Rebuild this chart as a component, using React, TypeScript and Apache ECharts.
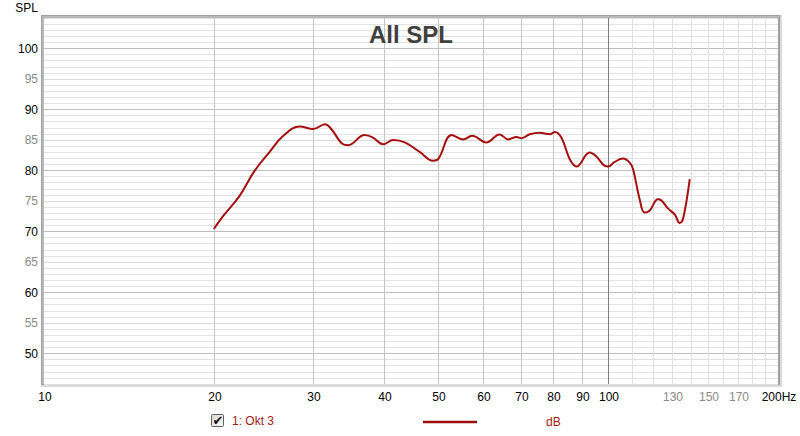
import React, { useEffect, useRef } from "react";
import * as echarts from "echarts";

// Frequency response (Hz) and level (dB SPL)
const freqs = [20.0, 20.8, 22.2, 23.6, 25.1, 26.5, 28.4, 30.0, 31.5, 32.3, 33.9, 34.6, 37.0, 38.3, 39.9, 41.6, 43.6, 46.4, 48.9, 50.0, 52.8, 55.3, 57.4, 60.8, 64.2, 66.5, 68.8, 70.2, 72.6, 75.6, 78.8, 80.4, 82.6, 85.5, 87.9, 92.7, 95.3, 98.6, 100, 102.7, 106.2, 109.2, 110.7, 113.7, 116, 118.4, 122.5, 124.3, 127.6, 131.2, 133.9, 135.7, 139.5];
const spl = [70.4, 72.6, 75.8, 79.9, 83.0, 85.6, 87.2, 86.8, 87.6, 86.8, 84.3, 84.15, 85.8, 85.4, 84.3, 85.0, 84.6, 83.0, 81.6, 81.9, 85.8, 85.1, 85.7, 84.6, 85.9, 85.1, 85.5, 85.3, 85.95, 86.2, 85.95, 86.3, 85.4, 81.85, 80.65, 82.95, 82.3, 80.75, 80.65, 81.4, 81.97, 81.3, 80.2, 75.3, 73.1, 73.4, 75.3, 75.1, 73.8, 72.8, 71.4, 72.0, 78.6];

// Vertical grid lines / x tick labels
const gridFreqs = [10, 20, 30, 40, 50, 60, 70, 80, 90, 100, 110, 120, 130, 140, 150, 160, 170, 180, 190, 200];
const gridLabels = ["10", "20", "30", "40", "50", "60", "70", "80", "90", "100", "", "", "130", "", "150", "", "170", "", "", "200Hz"];
const labelGrey = ["130", "150", "170"];

const Y_MIN = 45;
const Y_MAX = 105;
const X_MIN = 10;
const X_MAX = 200;

const FONT = "Liberation Sans, Arial, sans-serif";
const RED = "#a50f0f";

export default function App() {
  const ref = useRef<HTMLDivElement>(null);
  useEffect(() => {
    if (!ref.current) return;
    const chart = echarts.init(ref.current, null, { renderer: "svg" });
    const lineData = freqs.map((f, i) => [Math.log10(f), spl[i]]);
    const gridData = gridFreqs.map((f, i) => [Math.log10(f), i]);

    chart.setOption({
      animation: false,
      backgroundColor: "#ffffff",
      grid: { left: 44, top: 18, right: 22, bottom: 52, show: false },
      xAxis: {
        type: "value",
        min: Math.log10(X_MIN),
        max: Math.log10(X_MAX),
        axisLabel: { show: false },
        axisLine: { show: false },
        axisTick: { show: false },
        splitLine: { show: false },
      },
      yAxis: {
        type: "value",
        min: Y_MIN,
        max: Y_MAX,
        interval: 5,
        axisLine: { show: false },
        axisTick: { show: false },
        axisLabel: {
          margin: 6,
          fontFamily: FONT,
          fontSize: 12,
          formatter: (v: number) => {
            if (v <= Y_MIN || v >= Y_MAX) return "";
            return v % 10 === 0 ? `{b|${v}}` : `{g|${v}}`;
          },
          rich: {
            b: { color: "#000000", fontFamily: FONT, fontSize: 12 },
            g: { color: "#8a8a8a", fontFamily: FONT, fontSize: 12 },
          },
        },
        splitLine: { show: true, lineStyle: { color: ["#dcdcdc", "#bdbdbd"], width: 1 } },
        minorTick: { show: false, splitNumber: 5 },
        minorSplitLine: { show: true, lineStyle: { color: "#e2e2e2", width: 1 } },
      },
      graphic: [
        { type: "rect", z: -10, shape: { x: 41, y: 15, width: 741, height: 372 }, style: { fill: "#dadada" } },
        { type: "rect", z: -9, shape: { x: 41, y: 15, width: 739, height: 370 }, style: { fill: "#a0a0a0" } },
        { type: "rect", z: -9, shape: { x: 42, y: 16, width: 2, height: 368 }, style: { fill: "#b8b8b8" } },
        { type: "rect", z: -9, shape: { x: 42, y: 16, width: 737, height: 2 }, style: { fill: "#b8b8b8" } },
        { type: "rect", z: -8, shape: { x: 44, y: 18, width: 734, height: 366 }, style: { fill: "#ffffff" } },
        {
          type: "text", z: 100, x: 38, y: 8,
          style: { text: "SPL", fill: "#000", font: `12px ${FONT}`, textAlign: "right", textVerticalAlign: "middle" },
        },
        {
          type: "text", z: 100, x: 411, y: 34,
          style: { text: "All SPL", fill: "#404040", font: `bold 24px ${FONT}`, textAlign: "center", textVerticalAlign: "middle" },
        },
        // legend checkbox
        {
          type: "rect", z: 100, shape: { x: 211.5, y: 414.5, width: 12, height: 12, r: 1 },
          style: {
            fill: new echarts.graphic.LinearGradient(0, 0, 1, 1, [
              { offset: 0, color: "#d8d8d8" },
              { offset: 1, color: "#f8f8f8" },
            ]),
            stroke: "#606060", lineWidth: 1,
          },
        },
        {
          type: "text", z: 101, x: 218, y: 420.5,
          style: { text: "✔", fill: "#111", font: `bold 13px DejaVu Sans, sans-serif`, textAlign: "center", textVerticalAlign: "middle" },
        },
        {
          type: "text", z: 100, x: 232, y: 421,
          style: { text: "1: Okt 3", fill: "#a21a1a", font: `12px ${FONT}`, textAlign: "left", textVerticalAlign: "middle" },
        },
        { type: "line", z: 100, shape: { x1: 423, y1: 422, x2: 477, y2: 422 }, style: { stroke: "#9a1010", lineWidth: 2.5 } },
        {
          type: "text", z: 100, x: 546, y: 422,
          style: { text: "dB", fill: "#a21a1a", font: `12px ${FONT}`, textAlign: "left", textVerticalAlign: "middle" },
        },
      ],
      series: [
        {
          type: "custom",
          z: 1,
          clip: false,
          silent: true,
          data: gridData,
          renderItem: (params: any, api: any) => {
            const idx = params.dataIndex;
            const v = api.value(0);
            const top = api.coord([v, Y_MAX]);
            const bot = api.coord([v, Y_MIN]);
            const f = gridFreqs[idx];
            const x = Math.round(top[0]) + 0.5;
            let stroke = "#c4c4c4";
            if (f === 100) stroke = "#7c7c7c";
            else if (f > 100) stroke = "#e0e0e0";
            const label = gridLabels[idx];
            const children: any[] = [];
            if (f !== X_MIN && f !== X_MAX) {
              children.push({
                type: "line",
                shape: { x1: x, y1: top[1], x2: x, y2: bot[1] },
                style: { stroke, lineWidth: 1 },
              });
            }
            if (label) {
              children.push({
                type: "text",
                x: Math.round(top[0]) + 1,
                y: bot[1] + 13,
                style: {
                  text: label,
                  fill: labelGrey.indexOf(label) >= 0 ? "#8a8a8a" : "#000000",
                  font: `12px ${FONT}`,
                  textAlign: "center",
                  textVerticalAlign: "middle",
                },
              });
            }
            return { type: "group", children };
          },
        },
        {
          type: "line",
          z: 5,
          data: lineData,
          smooth: 0.4,
          showSymbol: false,
          symbol: "none",
          lineStyle: { color: RED, width: 2 },
        },
      ],
    });
    return () => chart.dispose();
  }, []);
  return <div ref={ref} style={{ position: "absolute", left: 0, top: 0, width: 800, height: 436 }} />;
}
